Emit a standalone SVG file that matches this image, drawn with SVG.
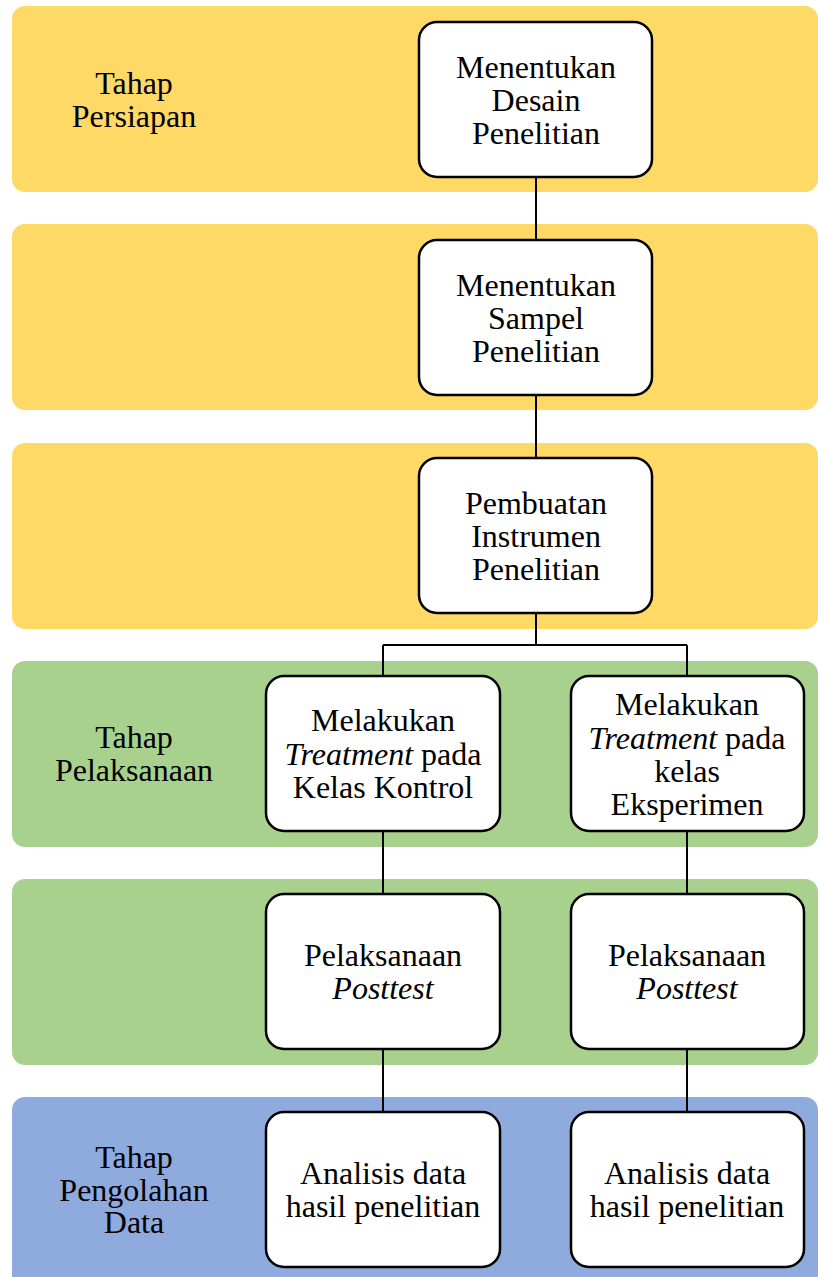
<svg xmlns="http://www.w3.org/2000/svg" width="818" height="1277" viewBox="0 0 818 1277">
<style>
.band{stroke:none}
.y{fill:#FFD966}.g{fill:#A9D18E}.b{fill:#8FAADC}
.box{fill:#fff;stroke:#000;stroke-width:2.5}
.t{font-family:"Liberation Serif","Times New Roman",serif;font-size:32px;fill:#000;text-anchor:middle}
.conn{stroke:#000;stroke-width:2;fill:none}
</style>
<g id="bands">
<rect class="band y" x="12" y="6" width="806" height="186" rx="13"/>
<rect class="band y" x="12" y="224" width="806" height="186" rx="13"/>
<rect class="band y" x="12" y="443" width="806" height="186" rx="13"/>
<rect class="band g" x="12" y="661" width="806" height="186" rx="13"/>
<rect class="band g" x="12" y="879" width="806" height="186" rx="13"/>
<rect class="band b" x="12" y="1097" width="806" height="200" rx="13"/>
</g>
<g id="labels">
<text class="t" x="134" y="94">Tahap</text>
<text class="t" x="134" y="127">Persiapan</text>
<text class="t" x="134" y="748">Tahap</text>
<text class="t" x="134" y="781">Pelaksanaan</text>
<text class="t" x="134" y="1168">Tahap</text>
<text class="t" x="134" y="1201">Pengolahan</text>
<text class="t" x="134" y="1233">Data</text>
</g>
<g id="connectors">
<path class="conn" d="M536 177V240M536 395V458M536 613V645M383 645H687M383 645V676M687 645V676M383 831V894M687 831V894M383 1049V1112M687 1049V1112"/>
</g>
<g id="n1"><rect class="box" x="419" y="22" width="233" height="155" rx="18"/>
<text class="t" x="536" y="78">Menentukan</text><text class="t" x="536" y="111">Desain</text><text class="t" x="536" y="144">Penelitian</text></g>
<g id="n2"><rect class="box" x="419" y="240" width="233" height="155" rx="18"/>
<text class="t" x="536" y="296">Menentukan</text><text class="t" x="536" y="329">Sampel</text><text class="t" x="536" y="362">Penelitian</text></g>
<g id="n3"><rect class="box" x="419" y="458" width="233" height="155" rx="18"/>
<text class="t" x="536" y="514">Pembuatan</text><text class="t" x="536" y="547">Instrumen</text><text class="t" x="536" y="580">Penelitian</text></g>
<g id="n4"><rect class="box" x="266" y="676" width="234" height="155" rx="18"/>
<text class="t" x="383" y="731">Melakukan</text><text class="t" x="383" y="765"><tspan font-style="italic">Treatment</tspan> pada</text><text class="t" x="383" y="798">Kelas Kontrol</text></g>
<g id="n5"><rect class="box" x="571" y="676" width="233" height="155" rx="18"/>
<text class="t" x="687" y="715">Melakukan</text><text class="t" x="687" y="749"><tspan font-style="italic">Treatment</tspan> pada</text><text class="t" x="687" y="782">kelas</text><text class="t" x="687" y="815">Eksperimen</text></g>
<g id="n6"><rect class="box" x="266" y="894" width="234" height="155" rx="18"/>
<text class="t" x="383" y="966">Pelaksanaan</text><text class="t" x="383" y="999" font-style="italic">Posttest</text></g>
<g id="n7"><rect class="box" x="571" y="894" width="233" height="155" rx="18"/>
<text class="t" x="687" y="966">Pelaksanaan</text><text class="t" x="687" y="999" font-style="italic">Posttest</text></g>
<g id="n8"><rect class="box" x="266" y="1112" width="234" height="155" rx="18"/>
<text class="t" x="383" y="1184">Analisis data</text><text class="t" x="383" y="1217">hasil penelitian</text></g>
<g id="n9"><rect class="box" x="571" y="1112" width="233" height="155" rx="18"/>
<text class="t" x="687" y="1184">Analisis data</text><text class="t" x="687" y="1217">hasil penelitian</text></g>
</svg>
